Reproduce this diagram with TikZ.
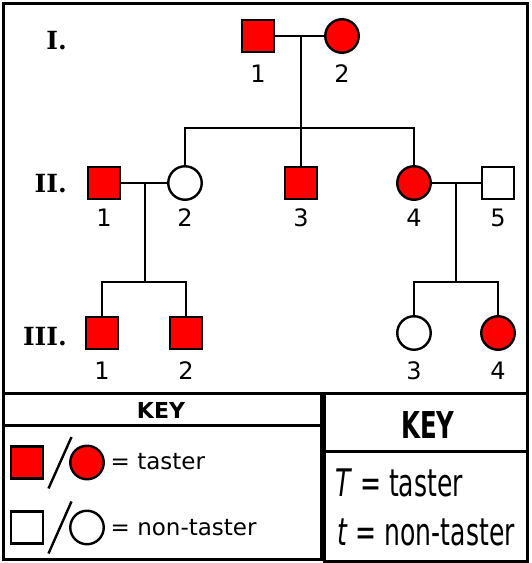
\documentclass[tikz,border=0pt]{standalone}
\usepackage{fontspec}
\setmainfont{DejaVu Sans}
\newfontfamily\genfont{DejaVu Serif}
\newfontfamily\narrowfont[FakeStretch=0.66]{DejaVu Sans}
\usepackage{tikz}
\usetikzlibrary{positioning}
\tikzstyle{male} = [rectangle, minimum size=32pt, inner sep=0pt, draw=black, line width=2.4pt]
\tikzstyle{female} = [circle, minimum size=33.5pt, inner sep=0pt, draw=black, line width=2.4pt]
\tikzstyle{taster} = [fill=red]
\tikzstyle{nontaster} = [fill=white]
\tikzstyle{num} = [inner sep=0pt, font=\fontsize{24}{28}\selectfont]
\tikzstyle{gen} = [inner sep=0pt, anchor=base east, font=\genfont\bfseries\fontsize{25}{29}\selectfont]
\tikzstyle{keytext} = [inner sep=0pt, anchor=base west, font=\fontsize{23}{27}\selectfont]
\tikzstyle{bigkey} = [inner sep=0pt, anchor=base west, font=\narrowfont\fontsize{38}{42}\selectfont]
\tikzstyle{line} = [line width=2.4pt]
\tikzstyle{frame} = [line width=3pt]

\begin{document}
\begin{tikzpicture}[x=1pt, y=1pt, on grid]
    \useasboundingbox (0,0) rectangle (531,563);
    \draw[frame] (3,170) -- (3,559) -- (527,559) -- (527,170);

    % generation I
    \node (genI)[gen] at (67,513) {I.};
    \node (i1)[male, taster] at (258,527) {};
    \node (i2)[female, taster] at (342,527) {};
    \node (ni1)[num, below=38pt of i1] {1};
    \node (ni2)[num, below=38pt of i2] {2};
    \coordinate (m1) at (301,527);
    \coordinate (s1) at (301,435);

    % generation II
    \node (genII)[gen] at (67,370) {II.};
    \node (ii1)[male, taster] at (104,380) {};
    \node (ii2)[female, nontaster] at (185,380) {};
    \node (ii3)[male, taster] at (301,380) {};
    \node (ii4)[female, taster] at (414,380) {};
    \node (ii5)[male, nontaster] at (498,380) {};
    \node (nii1)[num, below=35pt of ii1] {1};
    \node (nii2)[num, below=35pt of ii2] {2};
    \node (nii3)[num, below=35pt of ii3] {3};
    \node (nii4)[num, below=35pt of ii4] {4};
    \node (nii5)[num, below=35pt of ii5] {5};
    \coordinate (m2) at (145,380);
    \coordinate (s2) at (145,281);
    \coordinate (m3) at (456,380);
    \coordinate (s3) at (456,281);

    % generation III
    \node (genIII)[gen] at (67,217) {III.};
    \node (iii1)[male, taster] at (102,230) {};
    \node (iii2)[male, taster] at (186,230) {};
    \node (iii3)[female, nontaster] at (414,230) {};
    \node (iii4)[female, taster] at (498,230) {};
    \node (niii1)[num, below=38pt of iii1] {1};
    \node (niii2)[num, below=38pt of iii2] {2};
    \node (niii3)[num, below=38pt of iii3] {3};
    \node (niii4)[num, below=38pt of iii4] {4};

    \draw[line] (i1) -- (i2);
    \draw[line] (m1) -- (ii3);
    \draw[line] (ii2) |- (s1) -| (ii4);
    \draw[line] (ii1) -- (ii2);
    \draw[line] (m2) -- (s2);
    \draw[line] (iii1) |- (s2) -| (iii2);
    \draw[line] (ii4) -- (ii5);
    \draw[line] (m3) -- (s3);
    \draw[line] (iii3) |- (s3) -| (iii4);

    % symbol key
    \draw[frame] (3,3) rectangle (321,169.5);
    \draw[frame] (3,137.5) -- (321,137.5);
    \node (keyA)[inner sep=0pt, font=\bfseries\fontsize{22}{26}\selectfont] at (161,152.5) {KEY};
    \node (kt1)[male, taster] at (27,100.5) {};
    \draw[line] (48.5,74.5) -- (71.5,126);
    \node (kt2)[female, taster] at (87,100.5) {};
    \node (kt3)[keytext] at (110.5,93.3) {= taster};
    \node (kn1)[male, nontaster] at (27,35.5) {};
    \draw[line] (48.5,9.5) -- (71.5,61.5);
    \node (kn2)[female, nontaster] at (87,35.5) {};
    \node (kn3)[keytext] at (110.5,27.2) {= non-taster};

    % allele key
    \draw[frame] (324,1.5) rectangle (527,169.5);
    \draw[frame] (324,111.5) -- (527,111.5);
    \node (keyB)[inner sep=0pt, font=\narrowfont\bfseries\fontsize{37}{40}\selectfont] at (428,138) {KEY};
    \node (tT)[bigkey] at (335,66) {\textit{T} = taster};
    \node (tt)[bigkey] at (337,17) {\textit{t} = non-taster};
\end{tikzpicture}
\end{document}
